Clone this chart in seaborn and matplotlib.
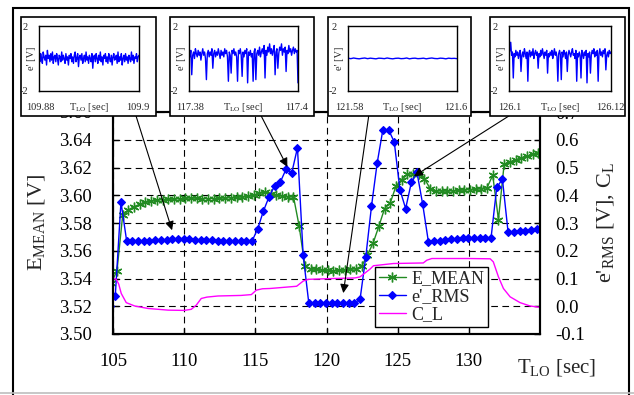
import numpy as np
import matplotlib
matplotlib.use("Agg")
import matplotlib.pyplot as plt
import seaborn as sns
from matplotlib.patches import Rectangle
from matplotlib.lines import Line2D

# ---------------- data ----------------
# e'_RMS (right axis), sampled every 0.4 s starting at 104.76 s
rms_t0, rms_dt = 104.76, 0.4
e_rms = [0.000, 0.037, 0.376, 0.235,
         0.235, 0.235, 0.235, 0.236, 0.237, 0.240, 0.240, 0.241, 0.241, 0.242, 0.241,
         0.240, 0.239, 0.238, 0.237, 0.236, 0.235, 0.235, 0.235, 0.235, 0.235, 0.234,
         0.278, 0.342, 0.394, 0.434, 0.448, 0.494, 0.481, 0.571,
         0.184, 0.010,
         0.010, 0.010, 0.010, 0.010, 0.010, 0.010, 0.010, 0.011,
         0.026, 0.178, 0.360, 0.516, 0.636, 0.636, 0.592, 0.420, 0.352, 0.446, 0.482, 0.367, 0.232,
         0.234, 0.236, 0.239, 0.242, 0.244, 0.245, 0.245, 0.245, 0.245, 0.246, 0.246,
         0.428, 0.458, 0.266, 0.268, 0.270, 0.272, 0.275, 0.277, 0.280]

# E_MEAN (left axis), sampled every 0.4 s starting at 104.88 s
mean_t0, mean_dt = 104.88, 0.4
e_mean = [3.5370, 3.5455, 3.5856, 3.5895, 3.5918, 3.5935, 3.5948, 3.5958, 3.5965, 3.5968,
          3.5970, 3.5972, 3.5975, 3.5978, 3.5980, 3.5978, 3.5976, 3.5975, 3.5976, 3.5978,
          3.5980, 3.5982, 3.5985, 3.5988, 3.5992, 3.6000, 3.6015, 3.6020, 3.6012, 3.6000,
          3.5995, 3.5990, 3.5990, 3.5777, 3.5490, 3.5470, 3.5465, 3.5460, 3.5458, 3.5456,
          3.5458, 3.5460, 3.5465, 3.5470, 3.5490, 3.5570, 3.5657, 3.5777, 3.5904, 3.5945,
          3.6065, 3.6113, 3.6150, 3.6155, 3.6150, 3.6120, 3.6048, 3.6031, 3.6030, 3.6030,
          3.6032, 3.6035, 3.6038, 3.6040, 3.6043, 3.6048, 3.6055, 3.6144, 3.5825, 3.6223,
          3.6240, 3.6255, 3.6270, 3.6280, 3.6295, 3.6305, 3.6320]

# C_L (right axis)
cl_t = [104.8, 105.23, 105.4, 105.58, 105.93, 106.52, 107.46, 108.87, 110.0, 110.5,
        110.85, 111.2, 111.6, 112.38, 114.0, 114.72, 115.07, 115.5, 116.03, 117.9,
        118.37, 118.72, 120.48, 122.0, 122.36, 122.71, 123.06, 123.3, 124.7, 126.8,
        127.05, 127.4, 127.8, 130.0, 131.5, 131.72, 132.08, 132.43, 132.9, 133.6,
        134.3, 135.0]
cl_v = [0.102, 0.097, 0.080, 0.046, 0.013, 0.001, -0.008, -0.014, -0.015, -0.011,
        0.004, 0.028, 0.033, 0.037, 0.039, 0.042, 0.058, 0.063, 0.064, 0.072,
        0.091, 0.097, 0.100, 0.102, 0.106, 0.120, 0.134, 0.146, 0.154, 0.156,
        0.166, 0.172, 0.172, 0.172, 0.171, 0.160, 0.106, 0.064, 0.034, 0.013,
        0.001, -0.004]

x_ticks = [105, 110, 115, 120, 125, 130]
left_ticks = [3.50, 3.52, 3.54, 3.56, 3.58, 3.60, 3.62, 3.64, 3.66]
right_ticks = [-0.1, 0.0, 0.1, 0.2, 0.3, 0.4, 0.5, 0.6, 0.7]
legend_labels = ["E_MEAN", "e'_RMS", "C_L"]

# inset signals e' [V]
ins1 = [0.1, -0.2, 0.3, 0.0, -0.3, 0.4, 0.1, -0.1, 0.2, -0.4, 0.5, 0.0, 0.2, -0.2, 0.3, -0.1, 0.4, -0.3, 0.1, 0.2,
        -0.2, 0.3, 0.0, -0.4, 0.2, 0.1, -0.2, 0.4, -0.1, 0.2, 0.0, -0.3, 0.3, -0.1, 0.1, -0.4, 0.2, 0.0, 0.3, -0.2,
        0.1, -0.3, 0.2, 0.4, -0.2, 0.0, 0.3, -0.5, 0.1, 0.2, -0.1, 0.3, -0.3, 0.0, 0.2, -0.2, 0.4, -0.1, 0.1, -0.3,
        0.2, 0.0, -0.2, 0.3, -0.6, 0.1, 0.2, -0.2, 0.3, 0.0, -0.3, 0.2, -0.1, 0.4, -0.2, 0.1, -0.4, 0.2, 0.0, 0.3,
        -0.2, 0.1, -0.3, 0.3, 0.0, -0.2, 0.2, -0.4, 0.1, 0.3, -0.1, 0.0, 0.2, -0.3, 0.4, -0.2, 0.1, -0.1, 0.3, -0.4,
        0.0, 0.2, -0.2, 0.3, -0.1, 0.1, -0.3, 0.2, 0.0, -0.2, 0.4, -0.1, 0.2, -0.3, 0.1, 0.0, 0.3, -0.2, 0.1, 0.2]
ins2 = [0.3, 0.1, 0.5, -1.0, 0.2, 0.4, 0.0, 0.6, 0.3, 0.1,
        0.5, 0.2, 0.4, -0.1, 0.3, 0.6, 0.2, 0.4, 0.0, -1.3,
        0.3, 0.5, 0.1, 0.4, 0.2, 0.6, -0.6, 0.3, 0.5, 0.1,
        0.4, 0.2, 0.6, 0.3, 0.0, 0.5, 0.2, 0.4, 0.1, 0.6,
        0.3, 0.5, 0.1, -1.4, 0.4, 0.2, -0.9, 0.5, 0.3, 0.6,
        0.2, 0.4, 0.1, -1.4, 0.5, 0.3, 0.6, 0.2, -1.1, 0.4,
        0.1, 0.5, 0.3, 0.6, -1.5, 0.4, 0.2, 0.5, 0.1, 0.3,
        -1.4, 0.4, 0.6, -1.3, 0.3, 0.5, 0.2, 0.7, 0.1, 0.4,
        0.6, 0.3, 0.8, -1.2, 0.5, 0.2, 0.7, 0.4, 0.9, 0.3,
        0.6, 0.2, 0.5, 0.8, -1.0, 0.4, 0.6, -0.6, 0.3, 0.7,
        0.5, 0.9, 0.2, 0.6, 0.4, 0.7, -0.8, 0.5, 0.3, 0.8,
        0.4, 0.6, 0.2, 0.5, 0.7, 0.3, 0.6, 0.4, 0.5, -1.5]
ins3 = [0.02, -0.01, 0.03, 0.00, -0.02, 0.01, 0.03, -0.01, 0.02, 0.00,
        -0.02, 0.02, 0.01, -0.01, 0.03, 0.00, -0.02, 0.01, 0.02, -0.01,
        0.00, 0.03, -0.02, 0.01, 0.02, -0.01, 0.00, 0.02, -0.02, 0.01,
        0.03, 0.00, -0.01, 0.02, 0.01, -0.02, 0.02, 0.00, 0.01, -0.01]
ins4 = [0.3, 0.5, 1.0, 0.2, 0.4, -1.2, 0.3, 0.1, 0.5, 0.2,
        0.4, 0.0, 0.3, 0.5, -0.8, 0.2, 0.4, 0.1, 0.6, 0.3,
        0.0, 0.4, -1.4, 0.3, 0.5, 0.1, 0.4, 0.2, 0.6, 0.0,
        0.3, 0.5, 0.2, 0.4, -0.6, 0.3, 0.1, 0.5, 0.2, 0.6,
        0.3, 0.0, 0.4, 0.2, 0.5, -0.9, 0.3, 0.1, 0.4, 0.2,
        0.5, 0.0, 0.3, 0.6, 0.2, 0.4, 0.1, -1.4, 0.3, 0.5,
        0.2, -1.3, 0.4, 0.1, 0.5, 0.3, 0.0, 0.4, -0.8, 0.2,
        0.5, 0.3, 0.1, 0.4, 0.6, 0.2, 0.3, 0.0, 0.5, -1.4,
        0.3, 0.1, 0.4, 0.2, -1.2, 0.5, 0.3, 0.0, 0.4, 0.2,
        0.5, -1.5, 0.3, 0.1, 0.4, -0.9, 0.2, 0.5, 0.3, 0.6,
        0.1, 0.4, 0.2, 0.5, -1.4, 0.3, 0.6, 0.2, 0.4, 0.1,
        0.5, 0.3, 0.6, -0.7, 0.2, 0.4, 0.1, 0.5, 0.3, 0.4]
inset_ranges = [(109.88, 109.90), (117.38, 117.40), (121.58, 121.60), (126.10, 126.12)]
inset_lo_labels = ["109.88", "117.38", "121.58", "126.1"]
inset_hi_labels = ["109.9", "117.4", "121.6", "126.12"]
inset_signals = [ins1, ins2, ins3, ins4]
# arrow tips (data coords of the main chart, left axis)
arrow_tips = [(109.15, 3.5748), (117.25, 3.6204), (121.18, 3.5295), (126.15, 3.6137)]

# ---------------- style ----------------
sns.set_style("white")
plt.rcParams["font.family"] = ["Liberation Serif", "DejaVu Serif"]
plt.rcParams["mathtext.fontset"] = "custom"
plt.rcParams["mathtext.rm"] = "Liberation Serif"
plt.rcParams["mathtext.it"] = "Liberation Serif:italic"
plt.rcParams["mathtext.bf"] = "Liberation Serif:bold"

GREEN = "#228B22"
BLUE = "#0000FF"
MAGENTA = "#FF00FF"

W, H = 634, 395
fig = plt.figure(figsize=(W / 100, H / 100), dpi=100)
fig.patch.set_facecolor("white")


def fr(x0, y0, x1, y1):
    return [x0 / W, 1 - y1 / H, (x1 - x0) / W, (y1 - y0) / H]


ax = fig.add_axes(fr(113, 112, 540, 334))
ax2 = ax.twinx()

rms_t = rms_t0 + rms_dt * np.arange(len(e_rms))
mean_t = mean_t0 + mean_dt * np.arange(len(e_mean))

sns.lineplot(x=mean_t, y=e_mean, ax=ax, color=GREEN, lw=1.0, marker=(6, 2, 0),
             markersize=7, markeredgewidth=1.0, markeredgecolor=GREEN,
             errorbar=None, sort=False, legend=False)
sns.lineplot(x=rms_t, y=e_rms, ax=ax2, color=BLUE, lw=1.0, marker="D",
             markersize=4.5, markeredgewidth=0.8, markeredgecolor=BLUE,
             errorbar=None, sort=False, legend=False)
sns.lineplot(x=cl_t, y=cl_v, ax=ax2, color=MAGENTA, lw=1.0,
             errorbar=None, sort=False, legend=False)

ax.set_xlim(105, 135)
ax.set_ylim(3.50, 3.66)
ax2.set_ylim(-0.1, 0.7)
ax.set_xticks(x_ticks)
ax.set_xticklabels([str(v) for v in x_ticks])
ax.set_yticks(left_ticks)
ax.set_yticklabels([f"{v:.2f}" for v in left_ticks])
ax2.set_yticks(right_ticks)
ax2.set_yticklabels([f"{v:.1f}" for v in right_ticks])
ax.set_xlabel("")

ax.set_axisbelow(True)
ax.grid(True, color="black", linestyle=(0, (6, 4)), linewidth=0.8)
ax2.grid(False)

for a in (ax, ax2):
    for s in a.spines.values():
        s.set_color("black")
        s.set_linewidth(1.5)
ax.tick_params(axis="both", direction="in", length=4, width=1, labelsize=13.5, colors="black")
ax.tick_params(axis="y", pad=15, left=True, right=False)
ax.tick_params(axis="x", pad=14, bottom=True, top=False)
ax2.tick_params(axis="y", direction="in", length=4, width=1, pad=11, labelsize=13.5,
                colors="black", right=True)

ax.set_ylabel(r"E$_{\mathrm{MEAN}}$ [V]", fontsize=16)
ax.yaxis.set_label_coords((47 - 113) / 427, 0.5)
ax2.set_ylabel(r"e'$_{\mathrm{RMS}}$ [V], C$_{\mathrm{L}}$", fontsize=16)
ax2.yaxis.set_label_coords((595 - 113) / 427, 0.5)
fig.text(517 / W, 1 - 368 / H, r"T$_{\mathrm{LO}}$ [sec]", fontsize=15,
         ha="left", va="center")

handles = [ax.lines[0], ax2.lines[0], ax2.lines[1]]
leg = ax2.legend(handles, legend_labels, loc="lower left",
                 bbox_to_anchor=(0.614, 0.032), bbox_transform=ax.transAxes,
                 borderaxespad=0, fancybox=False, edgecolor="black", framealpha=1,
                 fontsize=13, handlelength=1.5, handletextpad=0.3,
                 labelspacing=0.05, borderpad=0.2)
leg.get_frame().set_linewidth(1.0)

# arrows from insets to the chart
tails_px = [(131, 100), (253, 100), (371, 100), (534, 100)]
for (tx, ty), (px, py) in zip(arrow_tips, tails_px):
    ax2.annotate("", xy=(tx, ty), xycoords=ax.transData,
                 xytext=(px, H - py), textcoords="figure pixels",
                 arrowprops=dict(arrowstyle="-|>", color="black", lw=0.8,
                                 mutation_scale=13, shrinkA=0, shrinkB=0))

# outer frame
fig.add_artist(Rectangle((13 / W, -10 / H), (629 - 13) / W, (395 + 10 - 8) / H,
                         transform=fig.transFigure, facecolor="none",
                         edgecolor="black", lw=1.5, zorder=1))
fig.add_artist(Line2D([0, 1], [1 - 392.5 / H] * 2, transform=fig.transFigure,
                      color="#bdbdbd", lw=1.2, zorder=1))

# insets
boxes = [(21, 156), (170, 314), (328, 471), (490, 625)]
inners = [(39, 139), (189, 298), (348, 457), (509, 611)]
for (lo, hi), sig, lol, hil, (bx0, bx1), (ix0, ix1) in zip(
        inset_ranges, inset_signals, inset_lo_labels, inset_hi_labels, boxes, inners):
    fig.add_artist(Rectangle((bx0 / W, 1 - 116 / H), (bx1 - bx0) / W, (116 - 17) / H,
                             transform=fig.transFigure, facecolor="white",
                             edgecolor="black", lw=1.2, zorder=2))
    iax = fig.add_axes(fr(ix0, 26, ix1, 91))
    iax.set_zorder(3)
    st = np.linspace(lo, hi, len(sig))
    sns.lineplot(x=st, y=sig, ax=iax, color=BLUE, lw=1.0, errorbar=None,
                 sort=False, legend=False)
    iax.set_xlim(lo, hi)
    iax.set_ylim(-2, 2)
    iax.set_xticks([])
    iax.set_yticks([])
    iax.set_xlabel("")
    iax.set_ylabel("")
    for s in iax.spines.values():
        s.set_color("black")
        s.set_linewidth(1.0)
    kw = dict(xycoords="axes fraction", textcoords="offset pixels", fontsize=7.5)
    iax.annotate("2", xy=(0, 1), xytext=(-11, -2), ha="right", va="center", **kw)
    iax.annotate("-2", xy=(0, 0), xytext=(-11, 0), ha="right", va="center", **kw)
    iax.annotate("e' [V]", xy=(0, 0.5), xytext=(-8, 0), ha="center", va="center",
                 rotation=90, **kw)
    iax.annotate(lol, xy=(0, 0), xytext=(1, -17), ha="center", va="center", **kw)
    iax.annotate(hil, xy=(1, 0), xytext=(-1, -17), ha="center", va="center", **kw)
    iax.annotate(r"T$_{\mathrm{LO}}$ [sec]", xy=(0.5, 0), xytext=(0, -16),
                 ha="center", va="center", **kw)

fig.savefig("out.png", dpi=100, facecolor="white")
